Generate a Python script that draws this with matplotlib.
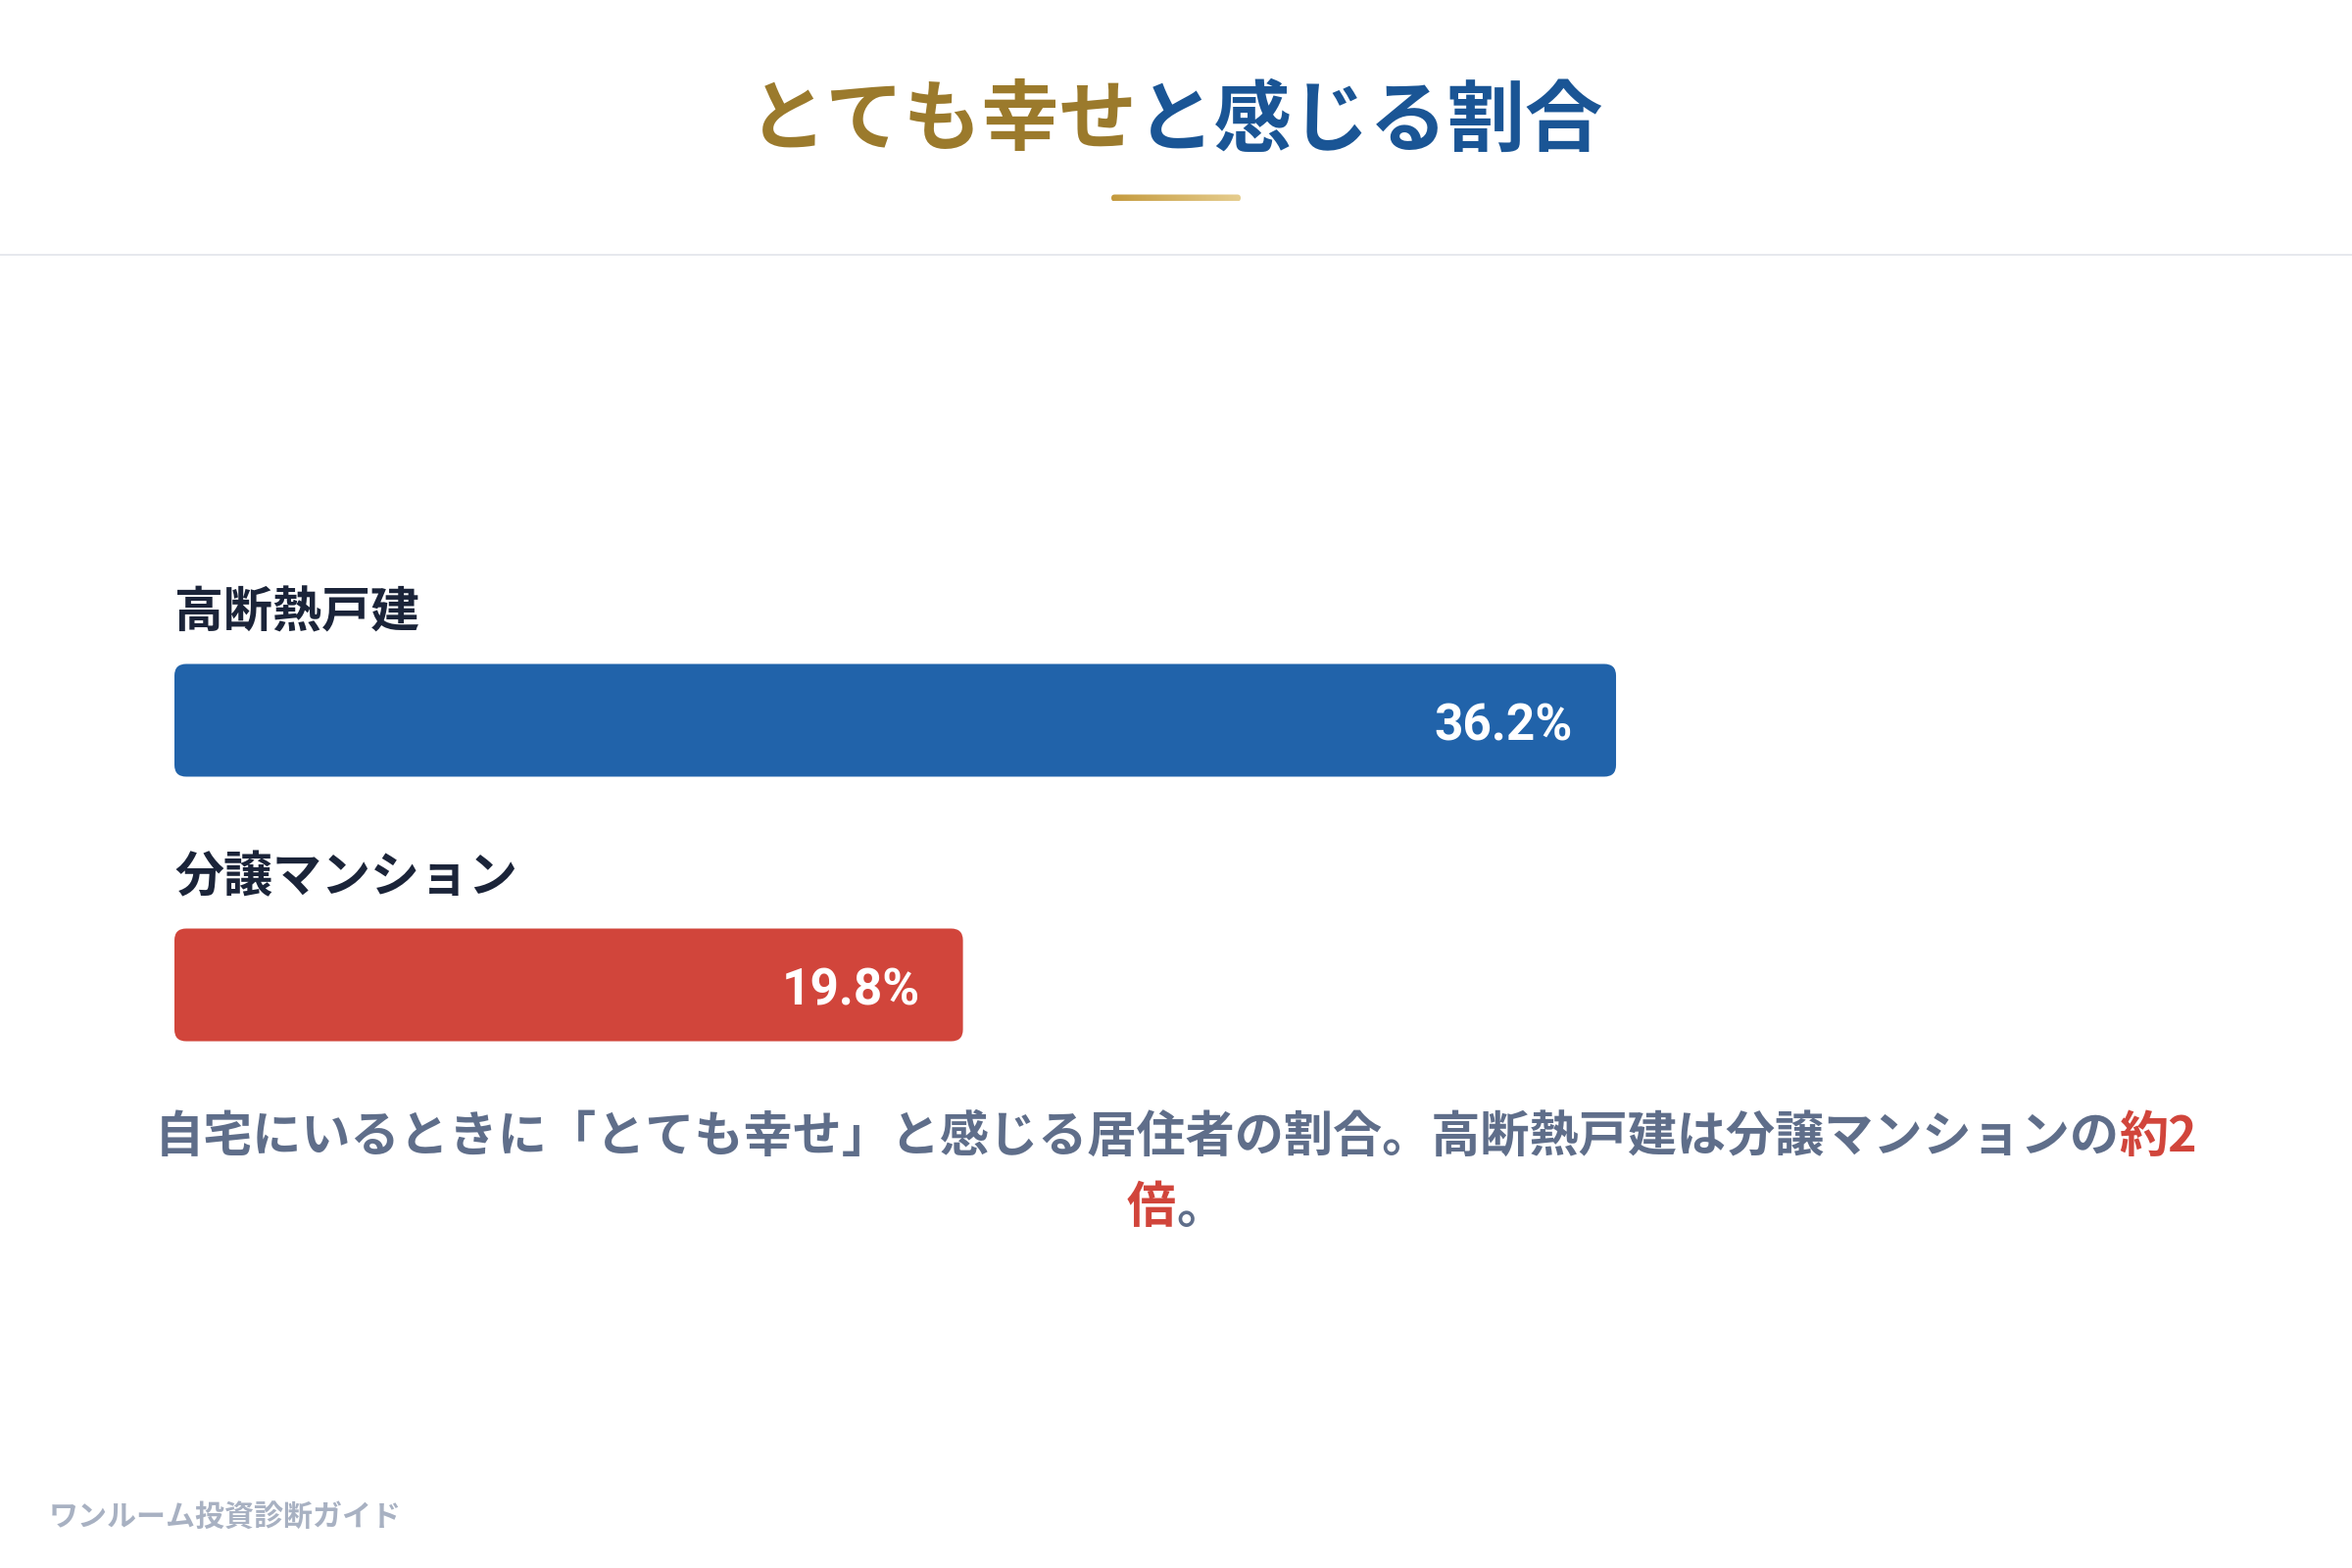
import matplotlib
matplotlib.use('Agg')
import matplotlib.pyplot as plt
import numpy as np
from matplotlib.patches import FancyBboxPatch
from matplotlib.colors import LinearSegmentedColormap

# ---------------- data ----------------
categories = ['高断熱戸建', '分譲マンション']
values = [36.2, 19.8]
value_labels = ['36.2%', '19.8%']
bar_colors = ['#2163AA', '#D1453B']
title_parts = ['とても幸せ', 'と感じる割合']
title_colors = ['#9B7A2C', '#1A5595']
caption_line1 = ['自宅にいるときに「とても幸せ」と感じる居住者の割合。高断熱戸建は分譲マンションの', '約2']
caption_line1_colors = ['#5F6E8A', '#D1453B']
caption_line2 = ['倍', '。']
caption_line2_colors = ['#D1453B', '#5F6E8A']
footer = 'ワンルーム投資診断ガイド'

plt.rcParams['font.family'] = ['Noto Sans CJK JP', 'DejaVu Sans']

W, H = 2400, 1600
DPI = 200
fig = plt.figure(figsize=(W / DPI, H / DPI), dpi=DPI)
fig.patch.set_facecolor('white')

# overlay axes in pixel coordinates
ov = fig.add_axes([0, 0, 1, 1], zorder=0)
ov.axis('off')

renderer = fig.canvas.get_renderer()


def mixed_line(parts, colors, y, size, cx=W / 2, weight='bold'):
    texts = [ov.text(0, y, p, color=c, fontsize=size, fontweight=weight,
                     ha='left', va='center') for p, c in zip(parts, colors)]
    widths = [t.get_window_extent(renderer).width for t in texts]
    x = cx - sum(widths) / 2
    for t, w in zip(texts, widths):
        t.set_x(x)
        x += w


# title
mixed_line(title_parts, title_colors, 124, 28.6)

# gradient underline
grad = np.linspace(0, 1, 256).reshape(1, -1)
cmap = LinearSegmentedColormap.from_list('gold', ['#C49A3E', '#E6CD8E'])
im = ov.imshow(grad, extent=[1134, 1266, 205.5, 198.5], cmap=cmap, aspect='auto', zorder=2)
clip = FancyBboxPatch((1134, 198.5), 132, 7, boxstyle='round,pad=0,rounding_size=3.5',
                      transform=ov.transData, fc='none', ec='none')
ov.add_patch(clip)
im.set_clip_path(clip)

# separator
ov.plot([0, W], [260, 260], color='#E6E8ED', lw=2 * 72 / DPI, solid_capstyle='butt')

# caption
mixed_line(caption_line1, caption_line1_colors, 1160, 18.05)
mixed_line(caption_line2, caption_line2_colors, 1233, 18.05)

# footer
ov.text(50, 1548, footer, color='#A8B1C2', fontsize=10.8, fontweight='bold', ha='left', va='center')

ov.set_xlim(0, W)
ov.set_ylim(H, 0)

# ---------------- bars ----------------
ax_left, ax_right = 178, 2222
ax_top, ax_bottom = 600, 1140
ax = fig.add_axes([ax_left / W, 1 - ax_bottom / H, (ax_right - ax_left) / W, (ax_bottom - ax_top) / H], zorder=1)
ax.set_facecolor('none')
xmax = 50.3
ax.set_xlim(0, xmax)
ax.set_ylim(1.5, -0.5)
ax.axis('off')

x_per_px = xmax / (ax_right - ax_left)
y_per_px = 2.0 / (ax_bottom - ax_top)
bar_h = 115 * y_per_px
radius_px = 12

for i, (cat, v, c, lbl) in enumerate(zip(categories, values, bar_colors, value_labels)):
    p = FancyBboxPatch((0, i - bar_h / 2), v, bar_h,
                       boxstyle=f'round,pad=0,rounding_size={radius_px * x_per_px}',
                       mutation_aspect=y_per_px / x_per_px, fc=c, ec='none')
    ax.add_patch(p)
    ax.text(0, i - 0.403, cat, fontsize=18, fontweight='bold', color='#1B2439',
            ha='left', va='center')
    ax.annotate(lbl, xy=(v, i), xytext=(-44 * 72 / DPI, -7 * 72 / DPI), textcoords='offset points',
                ha='right', va='center', color='white', fontsize=18.5, fontweight='bold',
                family=['Liberation Sans Narrow', 'Roboto', 'DejaVu Sans'])

fig.savefig('out.png', dpi=DPI, facecolor='white')
